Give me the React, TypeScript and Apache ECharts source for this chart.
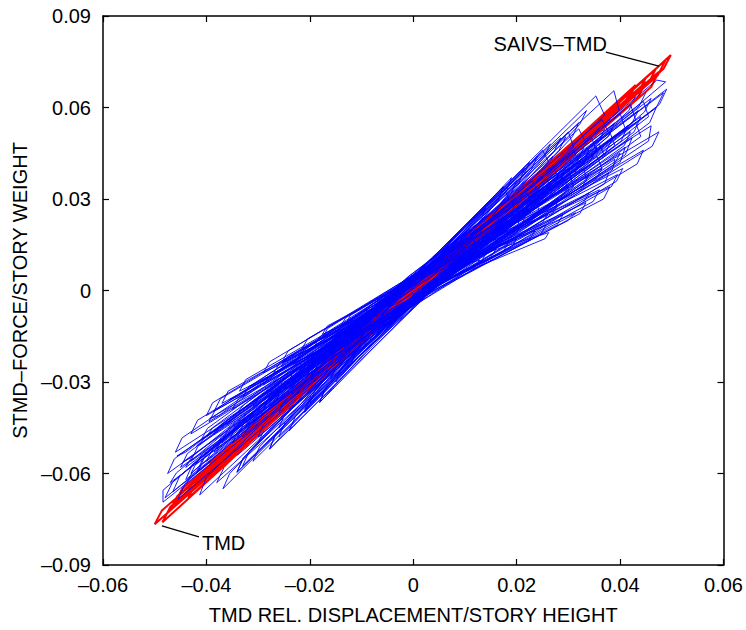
import React, { useEffect, useRef } from "react";
import * as echarts from "echarts";

// ---------- axis ticks ----------
const xTicks = { min: -0.06, max: 0.06, interval: 0.02 };
const yTicks = { min: -0.09, max: 0.09, interval: 0.03 };

// ---------- blue series (STMD) : turning points ----------
const bluePosPeaks: number[][] = [
  [0.012, 0.016], [0.018, 0.024], [0.022, 0.027], [0.026, 0.036], [0.030, 0.040],
  [0.0353, 0.0638], [0.0388, 0.0655], [0.0471, 0.069], [0.0484, 0.0648], [0.043, 0.055],
  [0.0423, 0.05], [0.0378, 0.0386], [0.034, 0.032], [0.0314, 0.0255], [0.0262, 0.019],
  [0.030, 0.052], [0.025, 0.046], [0.0174, 0.034], [0.032, 0.053], [0.0365, 0.056],
  [0.040, 0.058], [0.0445, 0.062], [0.046, 0.054], [0.041, 0.047], [0.039, 0.043],
  [0.0355, 0.044], [0.033, 0.040], [0.029, 0.037], [0.028, 0.030], [0.024, 0.028],
  [0.022, 0.032], [0.020, 0.024], [0.018, 0.020], [0.015, 0.021], [0.013, 0.015],
  [0.010, 0.013], [0.036, 0.048], [0.042, 0.061], [0.027, 0.041], [0.031, 0.046],
  [0.0345, 0.050], [0.038, 0.052], [0.023, 0.036], [0.019, 0.029], [0.016, 0.025],
];
const bluePosShoulders: number[][] = [
  [0.0112, 0.0122], [0.0172, 0.0192], [0.0212, 0.0222], [0.027, 0.031], [0.031, 0.034],
  [0.037, 0.0575], [0.0398, 0.059], [0.0488, 0.0684], [0.047, 0.060], [0.044, 0.0505],
  [0.041, 0.0445], [0.037, 0.035], [0.033, 0.029], [0.030, 0.023], [0.0255, 0.017],
  [0.031, 0.047], [0.0262, 0.042], [0.0185, 0.030], [0.0335, 0.048], [0.038, 0.051],
  [0.041, 0.053], [0.0455, 0.057], [0.0455, 0.049], [0.040, 0.042], [0.0385, 0.0395],
  [0.0365, 0.040], [0.0335, 0.036], [0.030, 0.033], [0.0275, 0.027], [0.0245, 0.025],
  [0.0228, 0.0285], [0.0205, 0.0215], [0.0183, 0.018], [0.0158, 0.0185], [0.0135, 0.0132],
  [0.0105, 0.0112], [0.037, 0.044], [0.043, 0.056], [0.028, 0.037], [0.032, 0.042],
  [0.0355, 0.0455], [0.039, 0.0475], [0.024, 0.0325], [0.0198, 0.026], [0.0168, 0.0222],
];
const blueNegPeaks: number[][] = [
  [-0.013, -0.017], [-0.017, -0.021], [-0.021, -0.025], [-0.024, -0.030], [-0.028, -0.036],
  [-0.0484, -0.0694], [-0.0455, -0.0684], [-0.0413, -0.067], [-0.0368, -0.065], [-0.0341, -0.0596],
  [-0.0457, -0.0543], [-0.0446, -0.0563], [-0.0419, -0.051], [-0.0394, -0.042], [-0.0355, -0.0357],
  [-0.0316, -0.0314], [-0.0253, -0.0236], [-0.0278, -0.052], [-0.0181, -0.0367], [-0.030, -0.048],
  [-0.033, -0.048], [-0.038, -0.052], [-0.040, -0.056], [-0.043, -0.060], [-0.047, -0.063],
  [-0.036, -0.044], [-0.034, -0.040], [-0.029, -0.036], [-0.027, -0.030], [-0.024, -0.032],
  [-0.022, -0.026], [-0.020, -0.029], [-0.018, -0.022], [-0.016, -0.020], [-0.010, -0.012],
  [-0.032, -0.044], [-0.0385, -0.047], [-0.026, -0.040], [-0.031, -0.038], [-0.035, -0.050],
  [-0.040, -0.048], [-0.0225, -0.034], [-0.019, -0.026], [-0.042, -0.057], [-0.044, -0.058],
];
const blueNegShoulders: number[][] = [
  [-0.0122, -0.0132], [-0.0162, -0.0172], [-0.0202, -0.0212], [-0.0232, -0.0262], [-0.0272, -0.0322],
  [-0.0484, -0.0655], [-0.044, -0.063], [-0.040, -0.0612], [-0.0355, -0.060], [-0.033, -0.0552],
  [-0.044, -0.053], [-0.043, -0.0548], [-0.0402, -0.0482], [-0.0376, -0.041], [-0.034, -0.0348],
  [-0.030, -0.0305], [-0.024, -0.0228], [-0.0268, -0.0478], [-0.0172, -0.033], [-0.029, -0.044],
  [-0.0318, -0.0445], [-0.0368, -0.0485], [-0.0388, -0.052], [-0.0418, -0.056], [-0.0458, -0.0598],
  [-0.0348, -0.0415], [-0.0328, -0.0375], [-0.028, -0.0335], [-0.026, -0.0282], [-0.0232, -0.0298],
  [-0.0212, -0.0243], [-0.0192, -0.0268], [-0.0172, -0.0205], [-0.0153, -0.0185], [-0.0095, -0.011],
  [-0.031, -0.041], [-0.0372, -0.044], [-0.0252, -0.037], [-0.030, -0.0355], [-0.034, -0.0465],
  [-0.0388, -0.045], [-0.0217, -0.0315], [-0.0183, -0.0242], [-0.0408, -0.0535], [-0.0428, -0.0545],
];

// second batch of blue cycles (steep, shallow and middle families of the fan)
const bluePosPeaks2: number[][] = [
  [0.0174, 0.034], [0.0129, 0.010], [0.015, 0.020], [0.019, 0.037], [0.016, 0.0135],
  [0.0175, 0.023], [0.0215, 0.040], [0.020, 0.017], [0.0205, 0.028], [0.024, 0.044],
  [0.0235, 0.0195], [0.0235, 0.032], [0.0265, 0.048], [0.0257, 0.0215], [0.0265, 0.035],
  [0.0295, 0.0504], [0.029, 0.025], [0.0295, 0.040], [0.032, 0.055], [0.0334, 0.0288],
  [0.0325, 0.043], [0.0335, 0.059], [0.036, 0.033], [0.0355, 0.047], [0.014, 0.027],
  [0.038, 0.034], [0.0385, 0.050], [0.0105, 0.020], [0.0405, 0.040], [0.0415, 0.054],
  [0.0285, 0.050], [0.0445, 0.046], [0.044, 0.057], [0.0225, 0.042], [0.0475, 0.052],
  [0.047, 0.060], [0.0395, 0.038], [0.049, 0.066], [0.025, 0.037], [0.020, 0.031],
  [0.034, 0.046], [0.037, 0.053], [0.043, 0.064], [0.033, 0.051], [0.028, 0.042],
];
const bluePosShoulders2: number[][] = [
  [0.0164, 0.0295], [0.012, 0.0078], [0.014, 0.0162], [0.018, 0.0325], [0.015, 0.011],
  [0.0165, 0.019], [0.0205, 0.0355], [0.019, 0.0142], [0.0194, 0.0238], [0.0228, 0.0395],
  [0.0224, 0.0165], [0.0223, 0.0276], [0.0252, 0.0435], [0.0246, 0.0183], [0.0253, 0.0305],
  [0.0282, 0.046], [0.0278, 0.0215], [0.0282, 0.0353], [0.0308, 0.0505], [0.0322, 0.0252],
  [0.0312, 0.0383], [0.0322, 0.0545], [0.0348, 0.0292], [0.0342, 0.0422], [0.0132, 0.0235],
  [0.0368, 0.030], [0.0372, 0.0452], [0.0098, 0.017], [0.0393, 0.0358], [0.0402, 0.049],
  [0.0272, 0.0455], [0.0433, 0.0415], [0.0427, 0.052], [0.0213, 0.0378], [0.0462, 0.0473],
  [0.0457, 0.055], [0.0383, 0.034], [0.0476, 0.061], [0.0238, 0.0328], [0.019, 0.0272],
  [0.0327, 0.0413], [0.0357, 0.0482], [0.0417, 0.059], [0.0317, 0.0463], [0.0268, 0.0376],
];
const blueNegPeaks2: number[][] = [
  [-0.0181, -0.0367], [-0.0091, -0.0069], [-0.015, -0.020], [-0.015, -0.030], [-0.014, -0.0115],
  [-0.0175, -0.0235], [-0.021, -0.040], [-0.0176, -0.0144], [-0.0205, -0.028], [-0.024, -0.046],
  [-0.0215, -0.019], [-0.0235, -0.032], [-0.0278, -0.052], [-0.0253, -0.0232], [-0.0265, -0.036],
  [-0.031, -0.056], [-0.029, -0.027], [-0.0295, -0.041], [-0.012, -0.024], [-0.0336, -0.033],
  [-0.0325, -0.045], [-0.0341, -0.0596], [-0.037, -0.037], [-0.0355, -0.049], [-0.020, -0.037],
  [-0.040, -0.041], [-0.0385, -0.053], [-0.026, -0.048], [-0.043, -0.047], [-0.0415, -0.059],
  [-0.033, -0.0575], [-0.046, -0.053], [-0.044, -0.062], [-0.038, -0.063], [-0.0475, -0.060],
  [-0.0465, -0.066], [-0.0385, -0.0395], [-0.048, -0.068], [-0.025, -0.038], [-0.020, -0.032],
  [-0.034, -0.048], [-0.037, -0.050], [-0.043, -0.056], [-0.031, -0.044], [-0.028, -0.040],
];
const blueNegShoulders2: number[][] = [
  [-0.0171, -0.0322], [-0.0083, -0.0048], [-0.014, -0.0162], [-0.0141, -0.0262], [-0.0131, -0.009],
  [-0.0165, -0.0195], [-0.0199, -0.0355], [-0.0166, -0.0116], [-0.0194, -0.0238], [-0.0228, -0.0413],
  [-0.0204, -0.0158], [-0.0223, -0.0276], [-0.0266, -0.0472], [-0.0242, -0.0198], [-0.0253, -0.0315],
  [-0.0297, -0.0512], [-0.0278, -0.0234], [-0.0282, -0.0363], [-0.0112, -0.0205], [-0.0324, -0.0292],
  [-0.0312, -0.0403], [-0.0328, -0.0548], [-0.0358, -0.033], [-0.0342, -0.0442], [-0.019, -0.0328],
  [-0.0388, -0.0368], [-0.0372, -0.0482], [-0.0248, -0.0433], [-0.0417, -0.0425], [-0.0402, -0.054],
  [-0.0317, -0.0527], [-0.0447, -0.0483], [-0.0427, -0.057], [-0.0366, -0.058], [-0.0462, -0.0552],
  [-0.0452, -0.061], [-0.0373, -0.0355], [-0.0466, -0.063], [-0.0238, -0.0338], [-0.019, -0.0282],
  [-0.0327, -0.0433], [-0.0357, -0.0452], [-0.0417, -0.0512], [-0.0297, -0.0393], [-0.0268, -0.0357],
];

// third batch of blue cycles (middle amplitudes)
const bluePosPeaks3: number[][] = [
  [0.020, 0.036], [0.024, 0.030], [0.027, 0.044], [0.030, 0.034], [0.033, 0.047],
  [0.0365, 0.040], [0.039, 0.055], [0.042, 0.052], [0.045, 0.065], [0.017, 0.028],
  [0.021, 0.022], [0.025, 0.040], [0.028, 0.028], [0.031, 0.049], [0.034, 0.038],
  [0.037, 0.058], [0.040, 0.045], [0.0435, 0.059], [0.046, 0.063], [0.0115, 0.017],
  [0.014, 0.012], [0.0185, 0.016], [0.0225, 0.035], [0.026, 0.025], [0.035, 0.053],
];
const bluePosShoulders3: number[][] = [
  [0.0189, 0.0318], [0.0229, 0.027], [0.0258, 0.0395], [0.0288, 0.031], [0.0318, 0.0425],
  [0.0353, 0.0365], [0.0377, 0.0505], [0.0408, 0.0475], [0.0437, 0.0605], [0.016, 0.0243],
  [0.020, 0.019], [0.0238, 0.0357], [0.0268, 0.025], [0.0298, 0.0445], [0.0328, 0.0343],
  [0.0357, 0.0535], [0.0388, 0.0412], [0.0422, 0.0545], [0.0447, 0.0585], [0.0107, 0.0135],
  [0.0132, 0.0095], [0.0175, 0.013], [0.0214, 0.031], [0.0249, 0.022], [0.0337, 0.0485],
];
const blueNegPeaks3: number[][] = [
  [-0.021, -0.039], [-0.023, -0.024], [-0.026, -0.045], [-0.029, -0.031], [-0.032, -0.050],
  [-0.035, -0.039], [-0.038, -0.058], [-0.041, -0.049], [-0.044, -0.064], [-0.016, -0.029],
  [-0.019, -0.018], [-0.024, -0.039], [-0.027, -0.027], [-0.030, -0.050], [-0.033, -0.035],
  [-0.036, -0.055], [-0.0395, -0.043], [-0.042, -0.060], [-0.045, -0.058], [-0.011, -0.018],
  [-0.013, -0.011], [-0.0175, -0.0155], [-0.022, -0.036], [-0.0255, -0.025], [-0.034, -0.054],
];
const blueNegShoulders3: number[][] = [
  [-0.0198, -0.0345], [-0.0219, -0.021], [-0.0248, -0.0405], [-0.0278, -0.028], [-0.0307, -0.0455],
  [-0.0338, -0.0355], [-0.0367, -0.0535], [-0.0398, -0.0452], [-0.0427, -0.0595], [-0.0151, -0.0255],
  [-0.0181, -0.0152], [-0.0229, -0.0348], [-0.0259, -0.024], [-0.0288, -0.0455], [-0.0318, -0.0315],
  [-0.0347, -0.0505], [-0.0383, -0.0392], [-0.0407, -0.0552], [-0.0437, -0.0535], [-0.0102, -0.0148],
  [-0.0122, -0.0082], [-0.0166, -0.0125], [-0.0209, -0.0318], [-0.0245, -0.022], [-0.0327, -0.0495],
];

// zero-force crossings: rising branch crosses above, falling branch below
const blueCrossUp: number[][] = [
  [-0.0005, 0.002], [0.0, 0.0035], [-0.001, 0.0015], [0.0005, 0.004], [-0.0005, 0.001],
  [0.0, 0.0045], [-0.001, 0.003], [0.0, 0.0025], [-0.0015, 0.002], [0.0005, 0.0035],
  [-0.0005, 0.0015], [0.0, 0.004], [-0.001, 0.0025], [0.0, 0.003], [-0.0005, 0.0045],
  [-0.001, 0.001], [0.0005, 0.002], [0.0, 0.0045], [-0.0005, 0.003], [-0.0015, 0.0015],
  [0.0, 0.0025], [-0.0005, 0.0035], [-0.001, 0.004], [0.0005, 0.0015], [0.0, 0.002],
  [-0.0005, 0.004], [-0.001, 0.002], [0.0, 0.003], [-0.0005, 0.0045], [0.0005, 0.001],
  [-0.001, 0.0035], [0.0, 0.0015], [-0.0005, 0.0025], [0.0, 0.004], [-0.0015, 0.003],
  [0.0, 0.002], [-0.0005, 0.0035], [0.0005, 0.0025], [-0.001, 0.0045], [0.0, 0.001],
  [-0.0005, 0.003], [0.0, 0.0035], [-0.001, 0.002], [0.0005, 0.004], [0.0, 0.0025],
];
const blueCrossDown: number[][] = [
  [0.0005, -0.002], [0.001, -0.001], [0.0, -0.003], [0.0005, -0.0015], [0.0015, -0.0025],
  [0.0, -0.0035], [0.001, -0.002], [0.0005, -0.001], [0.0, -0.0025], [0.001, -0.003],
  [0.0005, -0.0015], [0.0, -0.002], [0.0015, -0.0035], [0.0005, -0.003], [0.0, -0.001],
  [0.001, -0.0025], [0.0005, -0.002], [0.0, -0.0015], [0.0015, -0.003], [0.0005, -0.0035],
  [0.0, -0.002], [0.001, -0.0015], [0.0005, -0.0025], [-0.0005, -0.001], [0.001, -0.003],
  [0.0005, -0.002], [0.0, -0.0035], [0.0015, -0.0015], [0.0005, -0.0025], [0.0, -0.003],
  [0.001, -0.001], [0.0005, -0.002], [0.0, -0.0025], [0.0015, -0.0035], [0.0005, -0.0015],
  [0.0, -0.003], [0.001, -0.002], [0.0005, -0.001], [0.0, -0.0025], [0.001, -0.0035],
  [0.0005, -0.002], [0.0, -0.0015], [0.0015, -0.003], [0.0005, -0.0025], [0.0, -0.002],
];

// ---------- red series (SAIVS-TMD / TMD) ----------
const redPosPeaks: number[][] = [
  [0.013, 0.0202], [0.022, 0.0341], [0.034, 0.0527], [0.045, 0.0698], [0.0498, 0.0772],
  [0.047, 0.0729], [0.042, 0.0651], [0.040, 0.062], [0.037, 0.0574], [0.031, 0.048],
  [0.028, 0.0434], [0.025, 0.0388], [0.019, 0.0295], [0.016, 0.0248], [0.010, 0.0155], [0.007, 0.0109],
];
const redPosShoulders: number[][] = [
  [0.0116, 0.0157], [0.0206, 0.0296], [0.0326, 0.0482], [0.0436, 0.0653], [0.0484, 0.0727],
  [0.0456, 0.0684], [0.0406, 0.0606], [0.0386, 0.0575], [0.0356, 0.0529], [0.0296, 0.0435],
  [0.0266, 0.0389], [0.0236, 0.0343], [0.0176, 0.025], [0.0146, 0.0203], [0.0086, 0.011], [0.0056, 0.0064],
];
const redNegPeaks: number[][] = [
  [-0.017, -0.026], [-0.029, -0.0444], [-0.041, -0.0627], [-0.050, -0.0766], [-0.047, -0.0719],
  [-0.044, -0.0673], [-0.038, -0.0581], [-0.035, -0.0536], [-0.032, -0.049], [-0.026, -0.0398],
  [-0.023, -0.0352], [-0.020, -0.0306], [-0.014, -0.0214], [-0.011, -0.0168], [-0.008, -0.0122], [-0.005, -0.0077],
];
const redNegShoulders: number[][] = [
  [-0.0156, -0.0215], [-0.0276, -0.0399], [-0.0396, -0.0582], [-0.0486, -0.0721], [-0.0456, -0.0674],
  [-0.0426, -0.0628], [-0.0366, -0.0536], [-0.0336, -0.0491], [-0.0306, -0.0445], [-0.0246, -0.0353],
  [-0.0216, -0.0307], [-0.0186, -0.0261], [-0.0126, -0.0169], [-0.0096, -0.0123], [-0.0066, -0.0077], [-0.0036, -0.0032],
];
const redPosPeaks2: number[][] = [
  [0.0488, 0.0756], [0.0475, 0.0717], [0.045, 0.0684], [0.043, 0.0674], [0.0392, 0.0602], [0.035, 0.055],
  [0.032, 0.0485], [0.029, 0.0455], [0.026, 0.0395], [0.021, 0.033], [0.017, 0.0255], [0.012, 0.019],
];
const redPosShoulders2: number[][] = [
  [0.0473, 0.0706], [0.046, 0.0667], [0.0435, 0.0634], [0.0415, 0.0624], [0.0377, 0.0552], [0.0335, 0.050],
  [0.0305, 0.0435], [0.0275, 0.0405], [0.0245, 0.0345], [0.0195, 0.028], [0.0155, 0.0205], [0.0105, 0.014],
];
const redNegPeaks2: number[][] = [
  [-0.0485, -0.076], [-0.0462, -0.070], [-0.0435, -0.068], [-0.0405, -0.061], [-0.0375, -0.0585], [-0.0345, -0.052],
  [-0.031, -0.0485], [-0.0275, -0.0415], [-0.0245, -0.0385], [-0.019, -0.0285], [-0.0155, -0.0245], [-0.012, -0.018],
];
const redNegShoulders2: number[][] = [
  [-0.047, -0.071], [-0.0447, -0.065], [-0.042, -0.063], [-0.039, -0.056], [-0.036, -0.0535], [-0.033, -0.047],
  [-0.0295, -0.0435], [-0.026, -0.0365], [-0.023, -0.0335], [-0.0175, -0.0235], [-0.014, -0.0195], [-0.0105, -0.013],
];
const redCrossUp: number[][] = [
  [0.0005, 0.001], [-0.0005, 0.0005], [0.001, 0.0015], [0.0, 0.001], [0.0005, 0.0],
  [-0.001, 0.0005], [0.0005, 0.0015], [0.0, 0.0005], [0.001, 0.001], [-0.0005, 0.0],
  [0.0005, 0.001], [0.0, 0.0015], [0.001, 0.0005], [-0.0005, 0.001], [0.0005, 0.0005], [0.0, 0.001],
];
const redCrossDown: number[][] = [
  [0.0, -0.001], [0.0005, -0.0005], [-0.0005, -0.0015], [0.001, -0.0005], [0.0, -0.001],
  [-0.0005, -0.0005], [0.0005, -0.0015], [-0.001, -0.001], [0.0, -0.0005], [0.0005, -0.001],
  [-0.0005, -0.001], [0.0, -0.0015], [0.0005, -0.0005], [-0.001, -0.001], [0.0, -0.0005], [0.0005, -0.001],
];

// annotation anchors (data coordinates)
const annSaivs = { text: "SAIVS–TMD", at: [0.0475, 0.0736] };
const annTmd = { text: "TMD", at: [-0.0486, -0.0772] };

const xTitle = "TMD REL. DISPLACEMENT/STORY HEIGHT";
const yTitle = "STMD–FORCE/STORY WEIGHT";

function buildPath(up: number[][], pp: number[][], ps: number[][], down: number[][], np: number[][], ns: number[][]) {
  const out: number[][] = [];
  for (let i = 0; i < pp.length; i++) {
    out.push(up[i], pp[i], ps[i], down[i], np[i], ns[i]);
  }
  return out;
}

const FONT = '"Liberation Sans", Arial, Helvetica, sans-serif';

function fmt(v: number) {
  if (Math.abs(v) < 1e-9) return "0";
  return (v < 0 ? "–" : "") + Math.abs(v).toFixed(2);
}

export default function App() {
  const ref = useRef<HTMLDivElement>(null);
  useEffect(() => {
    if (!ref.current) return;
    const chart = echarts.init(ref.current, null, { renderer: "svg" });
    // the blue record is drawn in two passes: part before the red curve, part after it
    const blueUnder = buildPath(blueCrossUp, bluePosPeaks2, bluePosShoulders2, blueCrossDown, blueNegPeaks2, blueNegShoulders2)
      .concat(buildPath(blueCrossUp, bluePosPeaks3, bluePosShoulders3, blueCrossDown, blueNegPeaks3, blueNegShoulders3));
    const blueOver = buildPath(blueCrossUp, bluePosPeaks, bluePosShoulders, blueCrossDown, blueNegPeaks, blueNegShoulders);
    const redPath = buildPath(redCrossUp, redPosPeaks, redPosShoulders, redCrossDown, redNegPeaks, redNegShoulders)
      .concat(buildPath(redCrossUp, redPosPeaks2, redPosShoulders2, redCrossDown, redNegPeaks2, redNegShoulders2));
    const axisLine = { show: true, onZero: false, lineStyle: { color: "#000", width: 1.5 } };
    const tick = { show: true, inside: true, length: 6, lineStyle: { color: "#000", width: 1.2 } };
    const blueStyle = { color: "#0000ff", width: 0.9 };
    chart.setOption({
      animation: false,
      backgroundColor: "#fff",
      grid: { left: 103, right: 21, top: 16, bottom: 64, containLabel: false },
      xAxis: [
        {
          type: "value", ...xTicks, position: "bottom",
          axisLine, axisTick: tick, splitLine: { show: false },
          axisLabel: { formatter: fmt, color: "#000", fontSize: 20, fontFamily: FONT, margin: 10 },
          name: xTitle, nameLocation: "middle", nameGap: 40,
          nameTextStyle: { color: "#000", fontSize: 20, fontFamily: FONT },
        },
        {
          type: "value", ...xTicks, position: "top",
          axisLine, axisTick: tick, splitLine: { show: false }, axisLabel: { show: false },
        },
      ],
      yAxis: [
        {
          type: "value", ...yTicks, position: "left",
          axisLine, axisTick: tick, splitLine: { show: false },
          axisLabel: { formatter: fmt, color: "#000", fontSize: 20, fontFamily: FONT, margin: 12 },
          name: yTitle, nameLocation: "middle", nameGap: 70,
          nameTextStyle: { color: "#000", fontSize: 20, fontFamily: FONT },
        },
        {
          type: "value", ...yTicks, position: "right",
          axisLine, axisTick: tick, splitLine: { show: false }, axisLabel: { show: false },
        },
      ],
      series: [
        {
          type: "line", name: "STMD", data: blueUnder, showSymbol: false, symbol: "none",
          lineStyle: blueStyle, xAxisIndex: 0, yAxisIndex: 0, z: 2,
        },
        {
          type: "line", name: "TMD", data: redPath, showSymbol: false, symbol: "none",
          lineStyle: { color: "#ff0000", width: 2 }, xAxisIndex: 0, yAxisIndex: 0, z: 3,
        },
        {
          type: "line", name: "STMD ", data: blueOver, showSymbol: false, symbol: "none",
          lineStyle: blueStyle, xAxisIndex: 0, yAxisIndex: 0, z: 4,
        },
      ],
    });
    const a = chart.convertToPixel({ gridIndex: 0 }, annSaivs.at) as number[];
    const b = chart.convertToPixel({ gridIndex: 0 }, annTmd.at) as number[];
    chart.setOption({
      graphic: [
        { type: "line", shape: { x1: a[0] - 53, y1: a[1] - 14, x2: a[0], y2: a[1] }, style: { stroke: "#000", lineWidth: 1.3 }, z: 10 },
        { type: "text", x: a[0] - 52, y: a[1] - 22, style: { text: annSaivs.text, fill: "#000", fontSize: 20, fontFamily: FONT, align: "right", verticalAlign: "middle" }, z: 10 },
        { type: "line", shape: { x1: b[0], y1: b[1], x2: b[0] + 37, y2: b[1] + 11 }, style: { stroke: "#000", lineWidth: 1.3 }, z: 10 },
        { type: "text", x: b[0] + 40, y: b[1] + 17, style: { text: annTmd.text, fill: "#000", fontSize: 20, fontFamily: FONT, align: "left", verticalAlign: "middle" }, z: 10 },
      ],
    });
    return () => chart.dispose();
  }, []);
  return <div ref={ref} style={{ position: "fixed", left: 0, top: 0, width: 746, height: 630 }} />;
}
